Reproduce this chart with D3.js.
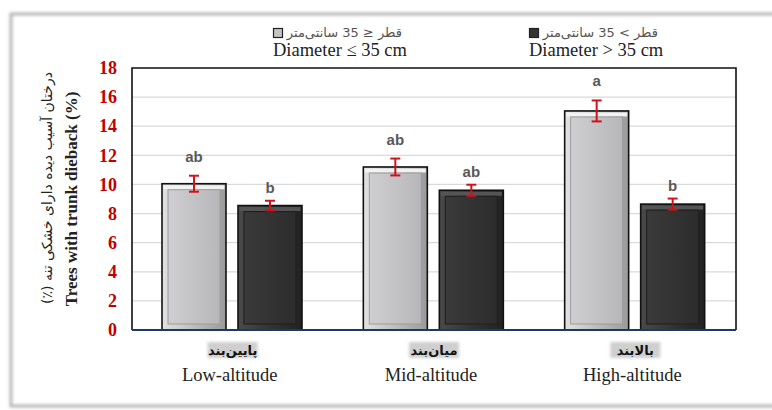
<!DOCTYPE html>
<html lang="en">
<head>
<meta charset="UTF-8">
<title>Trunk dieback by altitude</title>
<script src="https://d3js.org/d3.v7.min.js"></script>
<style>
  body, html { margin: 0; padding: 0; overflow: hidden; background: #fff; }
  svg { display: block; }
</style>
</head>
<body>
<script>
// data
const categories = ["Low-altitude", "Mid-altitude", "High-altitude"];
const categoriesFa = ["پایین‌بند", "میان‌بند", "بالابند"];
const seriesNames = ["Diameter ≤ 35 cm", "Diameter > 35 cm"];
const seriesNamesFa = ["قطر ≤ 35 سانتی‌متر", "قطر > 35 سانتی‌متر"];
const smallValues = [10.05, 11.2, 15.05];
const largeValues = [8.55, 9.6, 8.65];
const smallErrors = [0.55, 0.58, 0.72];
const largeErrors = [0.33, 0.38, 0.38];
const smallLetters = ["ab", "ab", "a"];
const largeLetters = ["b", "ab", "b"];
const yTicks = [0, 2, 4, 6, 8, 10, 12, 14, 16, 18];

const width = 772, height = 410;
const plot = { left: 132, right: 736, top: 68, bottom: 330 };

const svg = d3.select("body").append("svg")
  .attr("width", width)
  .attr("height", height);

const defs = svg.append("defs");

// soft shadow for outer frame
const shadow = defs.append("filter").attr("id", "shadow")
  .attr("x", "-5%").attr("y", "-5%").attr("width", "110%").attr("height", "110%");
shadow.append("feGaussianBlur").attr("stdDeviation", 1.5);

const blur = defs.append("filter").attr("id", "blur")
  .attr("x", "-20%").attr("y", "-40%").attr("width", "140%").attr("height", "180%");
blur.append("feGaussianBlur").attr("stdDeviation", 1.6);

// bar face gradients
function hGrad(id, stops) {
  const g = defs.append("linearGradient").attr("id", id)
    .attr("x1", "0%").attr("x2", "100%").attr("y1", "0%").attr("y2", "0%");
  stops.forEach(s => g.append("stop").attr("offset", s[0]).attr("stop-color", s[1]));
}
hGrad("lightFace", [["0%", "#cfcfd1"], ["100%", "#b7b7b9"]]);
hGrad("lightRim", [["0%", "#e2e2e2"], ["50%", "#bdbdbd"], ["100%", "#9a9a9a"]]);
hGrad("darkFace", [["0%", "#3a3a3a"], ["100%", "#2c2c2c"]]);
hGrad("darkRim", [["0%", "#4a4a4a"], ["50%", "#333"], ["100%", "#222"]]);

// outer frame
svg.append("rect")
  .attr("x", 11).attr("y", 14).attr("width", 820).attr("height", 392)
  .attr("fill", "none").attr("stroke", "#b5b5b5").attr("stroke-width", 3)
  .attr("filter", "url(#shadow)");

// scales
const y = d3.scaleLinear().domain([0, 18]).range([plot.bottom, plot.top]);
const x0 = d3.scaleBand().domain(categories).range([plot.left, plot.right]).padding(0);
const x1 = d3.scaleBand().domain([0, 1]).range([30, 170]).paddingInner(0.158);

// gridlines
svg.append("g")
  .selectAll("line")
  .data(yTicks.slice(1, -1))
  .join("line")
  .attr("x1", plot.left).attr("x2", plot.right)
  .attr("y1", d => y(d)).attr("y2", d => y(d))
  .attr("stroke", "#dadada").attr("stroke-width", 1.2);

// y axis tick labels
const yAxis = d3.axisLeft(y).tickValues(yTicks).tickSize(0).tickPadding(0);
const yg = svg.append("g").attr("transform", `translate(${plot.left - 15},0)`).call(yAxis);
yg.select(".domain").remove();
yg.selectAll("text")
  .attr("fill", "#c00000")
  .attr("font-family", "'Liberation Serif', serif")
  .attr("font-weight", "bold")
  .attr("font-size", 18);

// bars
const rows = categories.map((c, i) => ({
  cat: c,
  items: [
    { s: 0, v: smallValues[i], e: smallErrors[i], l: smallLetters[i] },
    { s: 1, v: largeValues[i], e: largeErrors[i], l: largeLetters[i] }
  ]
}));

const groups = svg.append("g").selectAll("g")
  .data(rows)
  .join("g")
  .attr("transform", d => `translate(${x0(d.cat)},0)`);

const bars = groups.selectAll("g.bar")
  .data(d => d.items)
  .join("g").attr("class", "bar");

const bw = x1.bandwidth();
const inset = 6;

bars.append("rect")
  .attr("x", d => x1(d.s))
  .attr("y", d => y(d.v))
  .attr("width", bw)
  .attr("height", d => y(0) - y(d.v))
  .attr("fill", d => d.s === 0 ? "url(#lightRim)" : "url(#darkRim)")
  .attr("stroke", "#111").attr("stroke-width", 1.6);

// bevel top edge highlight
bars.append("rect")
  .attr("x", d => x1(d.s) + 1.5)
  .attr("y", d => y(d.v) + 1.5)
  .attr("width", bw - 3)
  .attr("height", inset - 2)
  .attr("fill", d => d.s === 0 ? "#f2f2f2" : "#555");

bars.append("rect")
  .attr("x", d => x1(d.s) + inset)
  .attr("y", d => y(d.v) + inset)
  .attr("width", bw - inset * 2)
  .attr("height", d => y(0) - y(d.v) - inset * 2)
  .attr("fill", d => d.s === 0 ? "url(#lightFace)" : "url(#darkFace)")
  .attr("stroke", d => d.s === 0 ? "#9c9c9c" : "#1e1e1e").attr("stroke-width", 1);

// error bars
const err = bars.append("g").attr("stroke", "#d0121b").attr("stroke-width", 2);
err.append("line")
  .attr("x1", d => x1(d.s) + bw / 2).attr("x2", d => x1(d.s) + bw / 2)
  .attr("y1", d => y(d.v + d.e)).attr("y2", d => y(d.v - d.e));
err.append("line")
  .attr("x1", d => x1(d.s) + bw / 2 - 5).attr("x2", d => x1(d.s) + bw / 2 + 5)
  .attr("y1", d => y(d.v + d.e)).attr("y2", d => y(d.v + d.e));
err.append("line")
  .attr("x1", d => x1(d.s) + bw / 2 - 5).attr("x2", d => x1(d.s) + bw / 2 + 5)
  .attr("y1", d => y(d.v - d.e)).attr("y2", d => y(d.v - d.e));

// significance letters
bars.append("text")
  .attr("x", d => x1(d.s) + bw / 2)
  .attr("y", d => y(d.v + d.e) - (d.s === 0 ? 14 : 8))
  .attr("text-anchor", "middle")
  .attr("fill", "#595959")
  .attr("font-family", "'Liberation Sans', Arial, sans-serif")
  .attr("font-weight", "bold")
  .attr("font-size", 15)
  .text(d => d.l);

// plot frame
svg.append("path")
  .attr("d", `M${plot.left},${plot.bottom}V${plot.top}H${plot.right}V${plot.bottom}`)
  .attr("fill", "none").attr("stroke", "#111").attr("stroke-width", 1.6);
svg.append("line")
  .attr("x1", plot.left).attr("x2", plot.right)
  .attr("y1", plot.bottom).attr("y2", plot.bottom)
  .attr("stroke", "#1f3864").attr("stroke-width", 2);

// category labels
const cx = c => x0(c) + x0.bandwidth() / 2;
categories.forEach((c, i) => {
  svg.append("rect")
    .attr("x", cx(c) - 25).attr("y", 342)
    .attr("width", 50).attr("height", 16)
    .attr("fill", "#cfcfcf").attr("filter", "url(#blur)");
  svg.append("text")
    .attr("x", cx(c)).attr("y", 355)
    .attr("text-anchor", "middle")
    .attr("direction", "rtl")
    .attr("font-family", "'DejaVu Sans', sans-serif")
    .attr("font-weight", "bold")
    .attr("font-size", 13)
    .attr("fill", "#111")
    .text(categoriesFa[i]);
  svg.append("text")
    .attr("x", cx(c) - 3).attr("y", 381)
    .attr("text-anchor", "middle")
    .attr("font-family", "'Liberation Serif', serif")
    .attr("font-size", 18.5)
    .attr("fill", "#222")
    .text(c);
});

// y axis title
const yt = svg.append("g");
yt.append("text")
  .attr("transform", "translate(52,188) rotate(-90)")
  .attr("text-anchor", "middle")
  .attr("direction", "rtl")
  .attr("unicode-bidi", "embed")
  .attr("font-family", "'DejaVu Sans', sans-serif")
  .attr("font-size", 14)
  .attr("fill", "#222")
  .text("درختان آسیب دیده دارای خشکی تنه (٪)");
yt.append("text")
  .attr("transform", "translate(77,199) rotate(-90)")
  .attr("text-anchor", "middle")
  .attr("font-family", "'Liberation Serif', serif")
  .attr("font-weight", "bold")
  .attr("font-size", 17)
  .attr("fill", "#222")
  .text("Trees with trunk dieback (%)");

// legend
const legendX = [273, 529];
const legend = svg.append("g").selectAll("g")
  .data(seriesNames)
  .join("g")
  .attr("transform", (d, i) => `translate(${legendX[i]},0)`);
legend.append("rect")
  .attr("x", 0.5).attr("y", 28.5).attr("width", 9).attr("height", 9)
  .attr("fill", (d, i) => i === 0 ? "#c4c4c4" : "#333")
  .attr("stroke", "#222").attr("stroke-width", 1.2);
legend.append("text")
  .attr("x", 129).attr("y", 37)
  .attr("text-anchor", "end")
  .attr("font-family", "'DejaVu Sans', sans-serif")
  .attr("font-size", 13)
  .attr("fill", "#555")
  .text((d, i) => seriesNamesFa[i]);
legend.append("text")
  .attr("x", 0).attr("y", 56)
  .attr("font-family", "'Liberation Serif', serif")
  .attr("font-size", 18.5)
  .attr("fill", "#222")
  .text(d => d);
</script>
</body>
</html>
